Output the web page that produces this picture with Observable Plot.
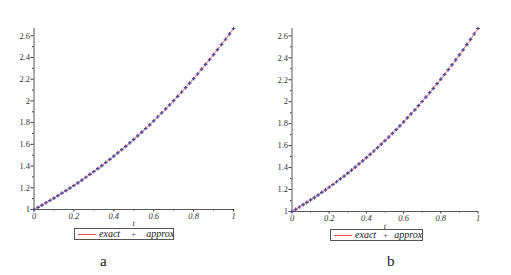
<!DOCTYPE html>
<html><head><meta charset="utf-8">
<script src="https://cdn.jsdelivr.net/npm/d3@7"></script>
<script src="https://cdn.jsdelivr.net/npm/@observablehq/plot@0.6"></script>
<style>
body{margin:0;background:#fff;width:511px;height:275px;overflow:hidden;font-family:"Liberation Serif",serif;}
.panel{position:absolute;top:0;}
.legend{position:absolute;border:1px solid #555;background:#fff;height:10px;display:flex;align-items:center;font-style:italic;font-size:10px;color:#222;white-space:nowrap;line-height:10px;font-family:"Liberation Serif",serif;overflow:hidden;}
.sw{flex:0 0 18px;height:1px;background:#ff5050;margin:0 3px 0 3px;}
.pl{flex:0 0 auto;color:#4a4aa8;font-style:normal;font-size:9px;}
.lab{position:absolute;font-size:15px;color:#222;font-family:"Liberation Serif",serif;}
</style></head><body>
<script>
const tVals = [0,0.02,0.04,0.06,0.08,0.10,0.12,0.14,0.16,0.18,0.20,0.22,0.24,0.26,0.28,0.30,0.32,0.34,0.36,0.38,0.40,0.42,0.44,0.46,0.48,0.50,0.52,0.54,0.56,0.58,0.60,0.62,0.64,0.66,0.68,0.70,0.72,0.74,0.76,0.78,0.80,0.82,0.84,0.86,0.88,0.90,0.92,0.94,0.96,0.98,1.00];
const exactVals = [1,1.020,1.041,1.062,1.083,1.105,1.127,1.150,1.174,1.197,1.221,1.246,1.271,1.297,1.323,1.350,1.377,1.405,1.433,1.461,1.491,1.521,1.551,1.582,1.613,1.646,1.678,1.712,1.746,1.780,1.816,1.852,1.889,1.926,1.964,2.002,2.042,2.082,2.122,2.164,2.205,2.248,2.292,2.336,2.381,2.427,2.473,2.520,2.568,2.617,2.667];
const approxVals = [1,1.020,1.041,1.062,1.083,1.105,1.127,1.150,1.174,1.197,1.221,1.246,1.271,1.297,1.323,1.350,1.377,1.405,1.433,1.461,1.491,1.521,1.551,1.582,1.613,1.646,1.678,1.712,1.746,1.780,1.816,1.852,1.889,1.926,1.964,2.002,2.042,2.082,2.122,2.164,2.205,2.248,2.292,2.336,2.381,2.427,2.473,2.520,2.568,2.617,2.667];
const xTicks = [0,0.2,0.4,0.6,0.8,1];
const xTickLabels = ["0","0.2","0.4","0.6","0.8","1"];
const xMinor = [0.1,0.3,0.5,0.7,0.9];
const yTicks = [1,1.2,1.4,1.6,1.8,2,2.2,2.4,2.6];
const yTickLabels = ["1","1.2","1.4","1.6","1.8","2","2.2","2.4","2.6"];
const yMinor = [1.1,1.3,1.5,1.7,1.9,2.1,2.3,2.5];
const panelLabels = ["a","b"];
const legendLabels = ["exact","approx"];

const exact = tVals.map((t,i)=>({t, v: exactVals[i]}));
const approx = tVals.map((t,i)=>({t, v: approxVals[i]}));

const panels = [
  {left:0, width:250, height:232, ml:33.5, mr:17, mt:28, mb:23, lo:16, legend:{left:74,top:228,width:98,pm:"0 10px 0 11px"}, lab:{left:100,top:253}},
  {left:258, width:250, height:234, ml:33.5, mr:30.5, mt:28, mb:23, lo:17, legend:{left:330,top:229,width:91,pm:"0 6px 0 7px"}, lab:{left:387,top:253}}
];

panels.forEach((p, k) => {
  const chart = Plot.plot({
    width: p.width, height: p.height,
    marginLeft: p.ml, marginRight: p.mr, marginTop: p.mt, marginBottom: p.mb,
    style: {fontFamily: "Liberation Serif, serif", fontSize: "8.5px", color: "#333", background: "transparent"},
    x: {domain: [0, 1]},
    y: {domain: [1, 2.667]},
    marks: [
      Plot.axisX({ticks: xTicks, tickFormat: (d,i)=>xTickLabels[i], tickSize: 2.5, tickPadding: 0.5, label: "t", labelAnchor: "center", labelArrow: "none", labelOffset: p.lo, fontStyle: "italic"}),
      Plot.axisX({ticks: xMinor, tickSize: 1.5, text: null, label: null}),
      Plot.axisY({ticks: yTicks, tickFormat: (d,i)=>yTickLabels[i], tickSize: 3, tickPadding: 1, label: null}),
      Plot.axisY({ticks: yMinor, tickSize: 1.5, text: null, label: null}),
      Plot.ruleX([0], {stroke: "#555"}),
      Plot.ruleY([1], {stroke: "#555"}),
      Plot.line(exact, {x: "t", y: "v", stroke: "#ff6060", strokeWidth: 1}),
      Plot.dot(approx, {x: "t", y: "v", symbol: "plus", r: 1.3, stroke: "#4b4b9c", strokeWidth: 1.2})
    ]
  });
  const wrap = document.createElement("div");
  wrap.className = "panel";
  wrap.style.left = p.left + "px";
  wrap.appendChild(chart);
  document.body.appendChild(wrap);

  const lg = document.createElement("div");
  lg.className = "legend";
  lg.style.left = p.legend.left + "px";
  lg.style.top = p.legend.top + "px";
  lg.style.width = p.legend.width + "px";
  lg.innerHTML = `<span class="sw"></span><span>${legendLabels[0]}</span><span class="pl" style="margin:${p.legend.pm}">+</span><span>${legendLabels[1]}</span>`;
  document.body.appendChild(lg);

  const lab = document.createElement("div");
  lab.className = "lab";
  lab.style.left = p.lab.left + "px";
  lab.style.top = p.lab.top + "px";
  lab.textContent = panelLabels[k];
  document.body.appendChild(lab);
});
</script>
</body></html>
